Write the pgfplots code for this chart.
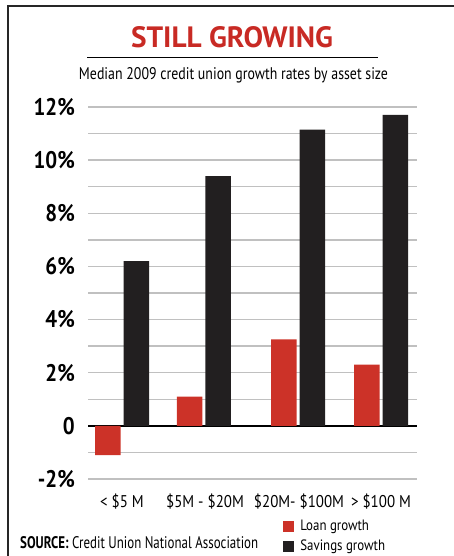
\documentclass[border=0pt]{standalone}
\usepackage{fontspec}
\setmainfont{PT Sans}
\usepackage{pgfplots}
\pgfplotsset{compat=1.18}
\definecolor{loanred}{RGB}{204,50,40}
\definecolor{savblack}{RGB}{34,31,32}
\definecolor{gridgray}{RGB}{192,192,192}
\definecolor{titlered}{RGB}{200,42,36}
\newcommand\tl[1]{\scalebox{0.87}[1]{\bfseries\fontsize{24}{24}\selectfont #1}}
\newcommand\cl[1]{\scalebox{0.88}[1]{\fontsize{17}{17}\selectfont #1}}
\newcommand\lgd[1]{\scalebox{0.86}[1]{\fontsize{15}{15}\selectfont #1}}
\begin{document}
\begin{tikzpicture}[x=1pt,y=1pt]
\useasboundingbox (0,0) rectangle (454,556);
\draw[line width=1.5pt, black!85] (8,0) -- (8,550) -- (454,550);
\node[anchor=base, text=titlered, inner sep=0] at (232,508) {\resizebox{202pt}{21pt}{\bfseries STILL GROWING}};
\draw[line width=0.8pt] (87,499) -- (378,499);
\node[anchor=base, inner sep=0] at (233.5,476) {\resizebox{309pt}{12pt}{Median 2009 credit union growth rates by asset size}};
\begin{axis}[at={(88pt,77pt)}, anchor=south west, scale only axis,
  width=329pt, height=372pt,
  xmin=88, xmax=417, ymin=-2, ymax=12,
  ybar=3pt, bar width=25.5pt,
  axis line style={draw=none},
  major tick style={draw=none}, minor tick style={draw=none},
  ytick={-2,0,...,12}, minor ytick={-1,1,...,11},
  yticklabels={\tl{-2\%},\tl{0},\tl{2\%},\tl{4\%},\tl{6\%},\tl{8\%},\tl{10\%},\tl{12\%}},
  yticklabel style={anchor=east, inner sep=0pt, xshift=-13pt},
  ymajorgrids, yminorgrids,
  major grid style={line width=1.5pt, gridgray},
  minor grid style={line width=1.5pt, gridgray},
  extra y ticks={0}, extra y tick labels={},
  extra y tick style={major grid style={line width=2pt, black}},
  xtick={122,205,299,381},
  xticklabels={\cl{< \$5 M},\cl{\$5M - \$20M},\cl{\$20M- \$100M},\cl{> \$100 M}},
  xticklabel style={anchor=base, inner sep=0pt, yshift=-24pt},
  legend style={at={(rel axis cs:0.593,-0.11)}, anchor=north west, draw=none, fill=none,
    inner sep=0pt, nodes={inner sep=0pt, anchor=west}, row sep=8pt,
    /tikz/every odd column/.append style={column sep=6pt}},
  legend cell align=left,
  clip=false,
]
\addplot[fill=loanred, draw=none,
  legend image code/.code={\fill[loanred] (0pt,-5.5pt) rectangle (11pt,5.5pt);}]
  coordinates {(122,-1.1) (203.75,1.1) (298,3.25) (381,2.3)};
\addlegendentry{\lgd{Loan growth}}
\addplot[fill=savblack, draw=none,
  legend image code/.code={\fill[savblack] (0pt,-5.5pt) rectangle (11pt,5.5pt);}]
  coordinates {(122,6.2) (203.75,9.4) (298,11.15) (381,11.7)};
\addlegendentry{\lgd{Savings growth}}
\end{axis}
\node[anchor=base west, inner sep=0] at (20,8) {\resizebox{238pt}{12pt}{\fontsize{16}{16}\selectfont\bfseries SOURCE:\normalfont\ Credit Union National Association}};
\end{tikzpicture}
\end{document}
